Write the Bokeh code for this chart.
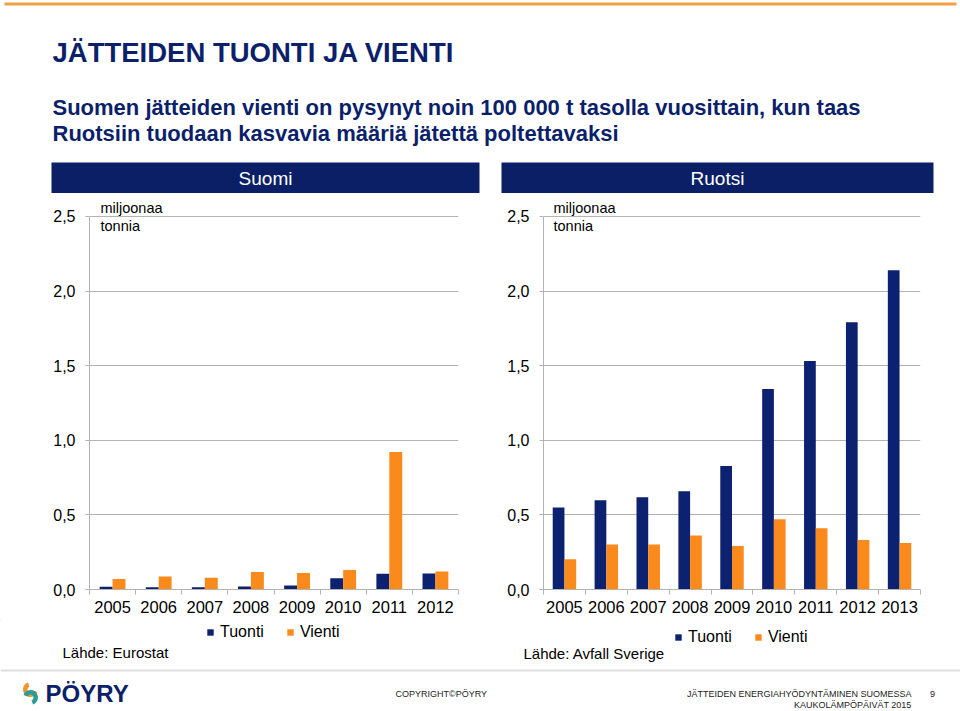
from bokeh.plotting import figure
from bokeh.models import (Range1d, FixedTicker, CustomJSTickFormatter, Legend, LegendItem,
                          Label, ColumnDataSource)
from bokeh.layouts import column, row
from bokeh.transform import dodge
from bokeh.core.properties import value
from bokeh.embed import file_html
from bokeh.resources import INLINE

# ---------------- data ----------------
title_text = "JÄTTEIDEN TUONTI JA VIENTI"
subtitle_lines = ["Suomen jätteiden vienti on pysynyt noin 100 000 t tasolla vuosittain, kun taas",
                  "Ruotsiin tuodaan kasvavia määriä jätettä poltettavaksi"]
panel_titles = ["Suomi", "Ruotsi"]
unit_lines = ["miljoonaa", "tonnia"]
series_names = ["Tuonti", "Vienti"]
y_ticks = [0.0, 0.5, 1.0, 1.5, 2.0, 2.5]

fi_years = [2005, 2006, 2007, 2008, 2009, 2010, 2011, 2012]
fi_tuonti = [0.018, 0.015, 0.015, 0.020, 0.027, 0.075, 0.105, 0.107]
fi_vienti = [0.071, 0.087, 0.078, 0.118, 0.111, 0.131, 0.922, 0.120]
fi_source = "Lähde: Eurostat"

se_years = [2005, 2006, 2007, 2008, 2009, 2010, 2011, 2012, 2013]
se_tuonti = [0.549, 0.598, 0.618, 0.658, 0.827, 1.344, 1.531, 1.790, 2.140]
se_vienti = [0.202, 0.302, 0.302, 0.362, 0.291, 0.471, 0.411, 0.331, 0.311]
se_source = "Lähde: Avfall Sverige"

footer_logo = "PÖYRY"
footer_copyright = "COPYRIGHT©PÖYRY"
footer_right = ["JÄTTEIDEN ENERGIAHYÖDYNTÄMINEN SUOMESSA", "KAUKOLÄMPÖPÄIVÄT 2015"]
page_number = "9"

# ---------------- style ----------------
FONT = "Liberation Sans"
NAVY = "#0c2170"
HEADER = "#0b1f66"
ORANGE = "#fb8a1c"
TITLE_NAVY = "#0b1f6b"
GRID = "#b3b3b3"
W = 960


def blank(width, height, xr, yr):
    f = figure(width=width, height=height, x_range=Range1d(*xr), y_range=Range1d(*yr),
               output_backend="svg", toolbar_location=None, min_border=0,
               x_axis_type=None, y_axis_type=None)
    f.grid.visible = False
    f.outline_line_color = None
    f.background_fill_color = "white"
    f.border_fill_color = "white"
    return f


# ---------------- header ----------------
h = blank(W, 193, (0, 960), (193, 0))
h.segment(x0=[4], y0=[3.5], x1=[956], y1=[3.5], line_color="#f0a040", line_width=3)
h.text(x=[52], y=[52], text=[title_text], text_font=value(FONT), text_font_style="bold",
       text_font_size="27.5px", text_color=TITLE_NAVY, text_baseline="middle", text_align="left")
h.text(x=[52, 52], y=[107, 133], text=subtitle_lines, text_font=value(FONT), text_font_style="bold",
       text_font_size="22px", text_color=TITLE_NAVY, text_baseline="middle", text_align="left")
h.quad(left=[51, 501], right=[479, 933], top=[162, 162], bottom=[193, 193],
       fill_color=HEADER, line_color=None)
h.text(x=[265, 717], y=[178, 178], text=panel_titles, text_font=value(FONT),
       text_font_size="19px", text_color="white", text_baseline="middle", text_align="center")


# ---------------- charts ----------------
def make_chart(years, tuonti, vienti, width, left, right, unit_x):
    src = ColumnDataSource(dict(year=years, tuonti=tuonti, vienti=vienti))
    p = figure(width=width, height=427, output_backend="svg", toolbar_location=None,
               x_range=Range1d(years[0] - 0.5, years[-1] + 0.5), y_range=Range1d(0, 2.62),
               min_border_left=left, min_border_right=right, min_border_top=5, min_border_bottom=31)
    p.outline_line_color = None
    p.background_fill_color = "white"
    p.border_fill_color = "white"

    p.vbar(x=dodge('year', -0.14), top='tuonti', width=0.28, source=src,
           fill_color=NAVY, line_color=None)
    p.vbar(x=dodge('year', 0.14), top='vienti', width=0.28, source=src,
           fill_color=ORANGE, line_color=None)

    xa = p.xaxis[0]
    xa.ticker = FixedTicker(ticks=years, minor_ticks=[y - 0.5 for y in years] + [years[-1] + 0.5])
    xa.formatter = CustomJSTickFormatter(code="return tick.toFixed(0)")
    xa.major_tick_out = 0
    xa.major_tick_in = 0
    xa.minor_tick_out = 5
    xa.minor_tick_in = 0
    xa.axis_line_color = GRID
    xa.minor_tick_line_color = GRID
    xa.major_label_text_font = FONT
    xa.major_label_text_font_size = "16.5px"
    xa.major_label_text_color = "black"
    xa.major_label_standoff = 6
    p.xgrid.visible = False

    ya = p.yaxis[0]
    ya.ticker = FixedTicker(ticks=y_ticks)
    ya.formatter = CustomJSTickFormatter(code="return tick.toFixed(1).replace('.', ',')")
    ya.bounds = (0, 2.5)
    ya.major_tick_out = 4
    ya.major_tick_in = 0
    ya.minor_tick_out = 0
    ya.minor_tick_in = 0
    ya.axis_line_color = GRID
    ya.major_tick_line_color = GRID
    ya.major_label_text_font = FONT
    ya.major_label_text_font_size = "16px"
    ya.major_label_text_color = "black"
    ya.major_label_standoff = 10
    p.ygrid.ticker = FixedTicker(ticks=y_ticks)
    p.ygrid.grid_line_color = GRID

    for txt, yy in zip(unit_lines, [2.554, 2.433]):
        p.add_layout(Label(x=unit_x, x_units="screen", y=yy, text=txt, text_font=FONT,
                           text_font_size="14.5px", text_color="black", text_baseline="middle"))
    return p


L = make_chart(fi_years, fi_tuonti, fi_vienti, 490, 89, 32, 11)
R = make_chart(se_years, se_tuonti, se_vienti, 470, 53, 40, 10)

# ---------------- footer (legends, sources, slide footer) ----------------
f = blank(W, 91, (0, 960), (711, 620))

# legend swatch renderers (one off-canvas point each) in the bar series colours
leg_tuonti = f.vbar(x=[-500], top=[0], bottom=[0], width=1, fill_color=NAVY, line_color=None)
leg_vienti = f.vbar(x=[-500], top=[0], bottom=[0], width=1, fill_color=ORANGE, line_color=None)
for pos in [(206, 70), (674, 65)]:
    lg = Legend(items=[LegendItem(label=series_names[0], renderers=[leg_tuonti], index=0),
                       LegendItem(label=series_names[1], renderers=[leg_vienti], index=0)],
                orientation="horizontal", location=pos,
                border_line_color=None, background_fill_alpha=0,
                label_text_font=FONT, label_text_font_size="16px", label_text_color="black",
                glyph_width=8, glyph_height=8, label_standoff=6, spacing=22,
                padding=0, margin=0, label_height=18)
    f.add_layout(lg, "center")

f.text(x=[62, 523], y=[652, 653], text=[fi_source, se_source], text_font=value(FONT),
       text_font_size="15px", text_color="black", text_baseline="middle", text_align="left")

f.segment(x0=[0], y0=[670], x1=[960], y1=[670], line_color="#dedede", line_width=2)
f.annular_wedge(x=[30], y=[689], inner_radius=3, outer_radius=7.5,
                start_angle=[-4.36], end_angle=[-0.35], fill_color="#f0952d", line_color=None)
f.annular_wedge(x=[30], y=[697], inner_radius=3, outer_radius=7.5,
                start_angle=[-1.22], end_angle=[2.79], fill_color="#2a9d98", line_color=None)
f.text(x=[45], y=[693], text=[footer_logo], text_font=value(FONT), text_font_style="bold",
       text_font_size="24px", text_color=TITLE_NAVY, text_baseline="middle", text_align="left")
f.text(x=[395], y=[693], text=[footer_copyright], text_font=value(FONT), text_font_size="9px",
       text_color="#222222", text_baseline="middle", text_align="left")
f.text(x=[911, 911], y=[693, 704], text=footer_right, text_font=value(FONT), text_font_size="9px",
       text_color="#222222", text_baseline="middle", text_align="right")
f.text(x=[932], y=[693], text=[page_number], text_font=value(FONT), text_font_size="9px",
       text_color="#222222", text_baseline="middle", text_align="center")

layout = column(h, row(L, R), f)
open("out.html", "w").write(file_html(layout, INLINE))
